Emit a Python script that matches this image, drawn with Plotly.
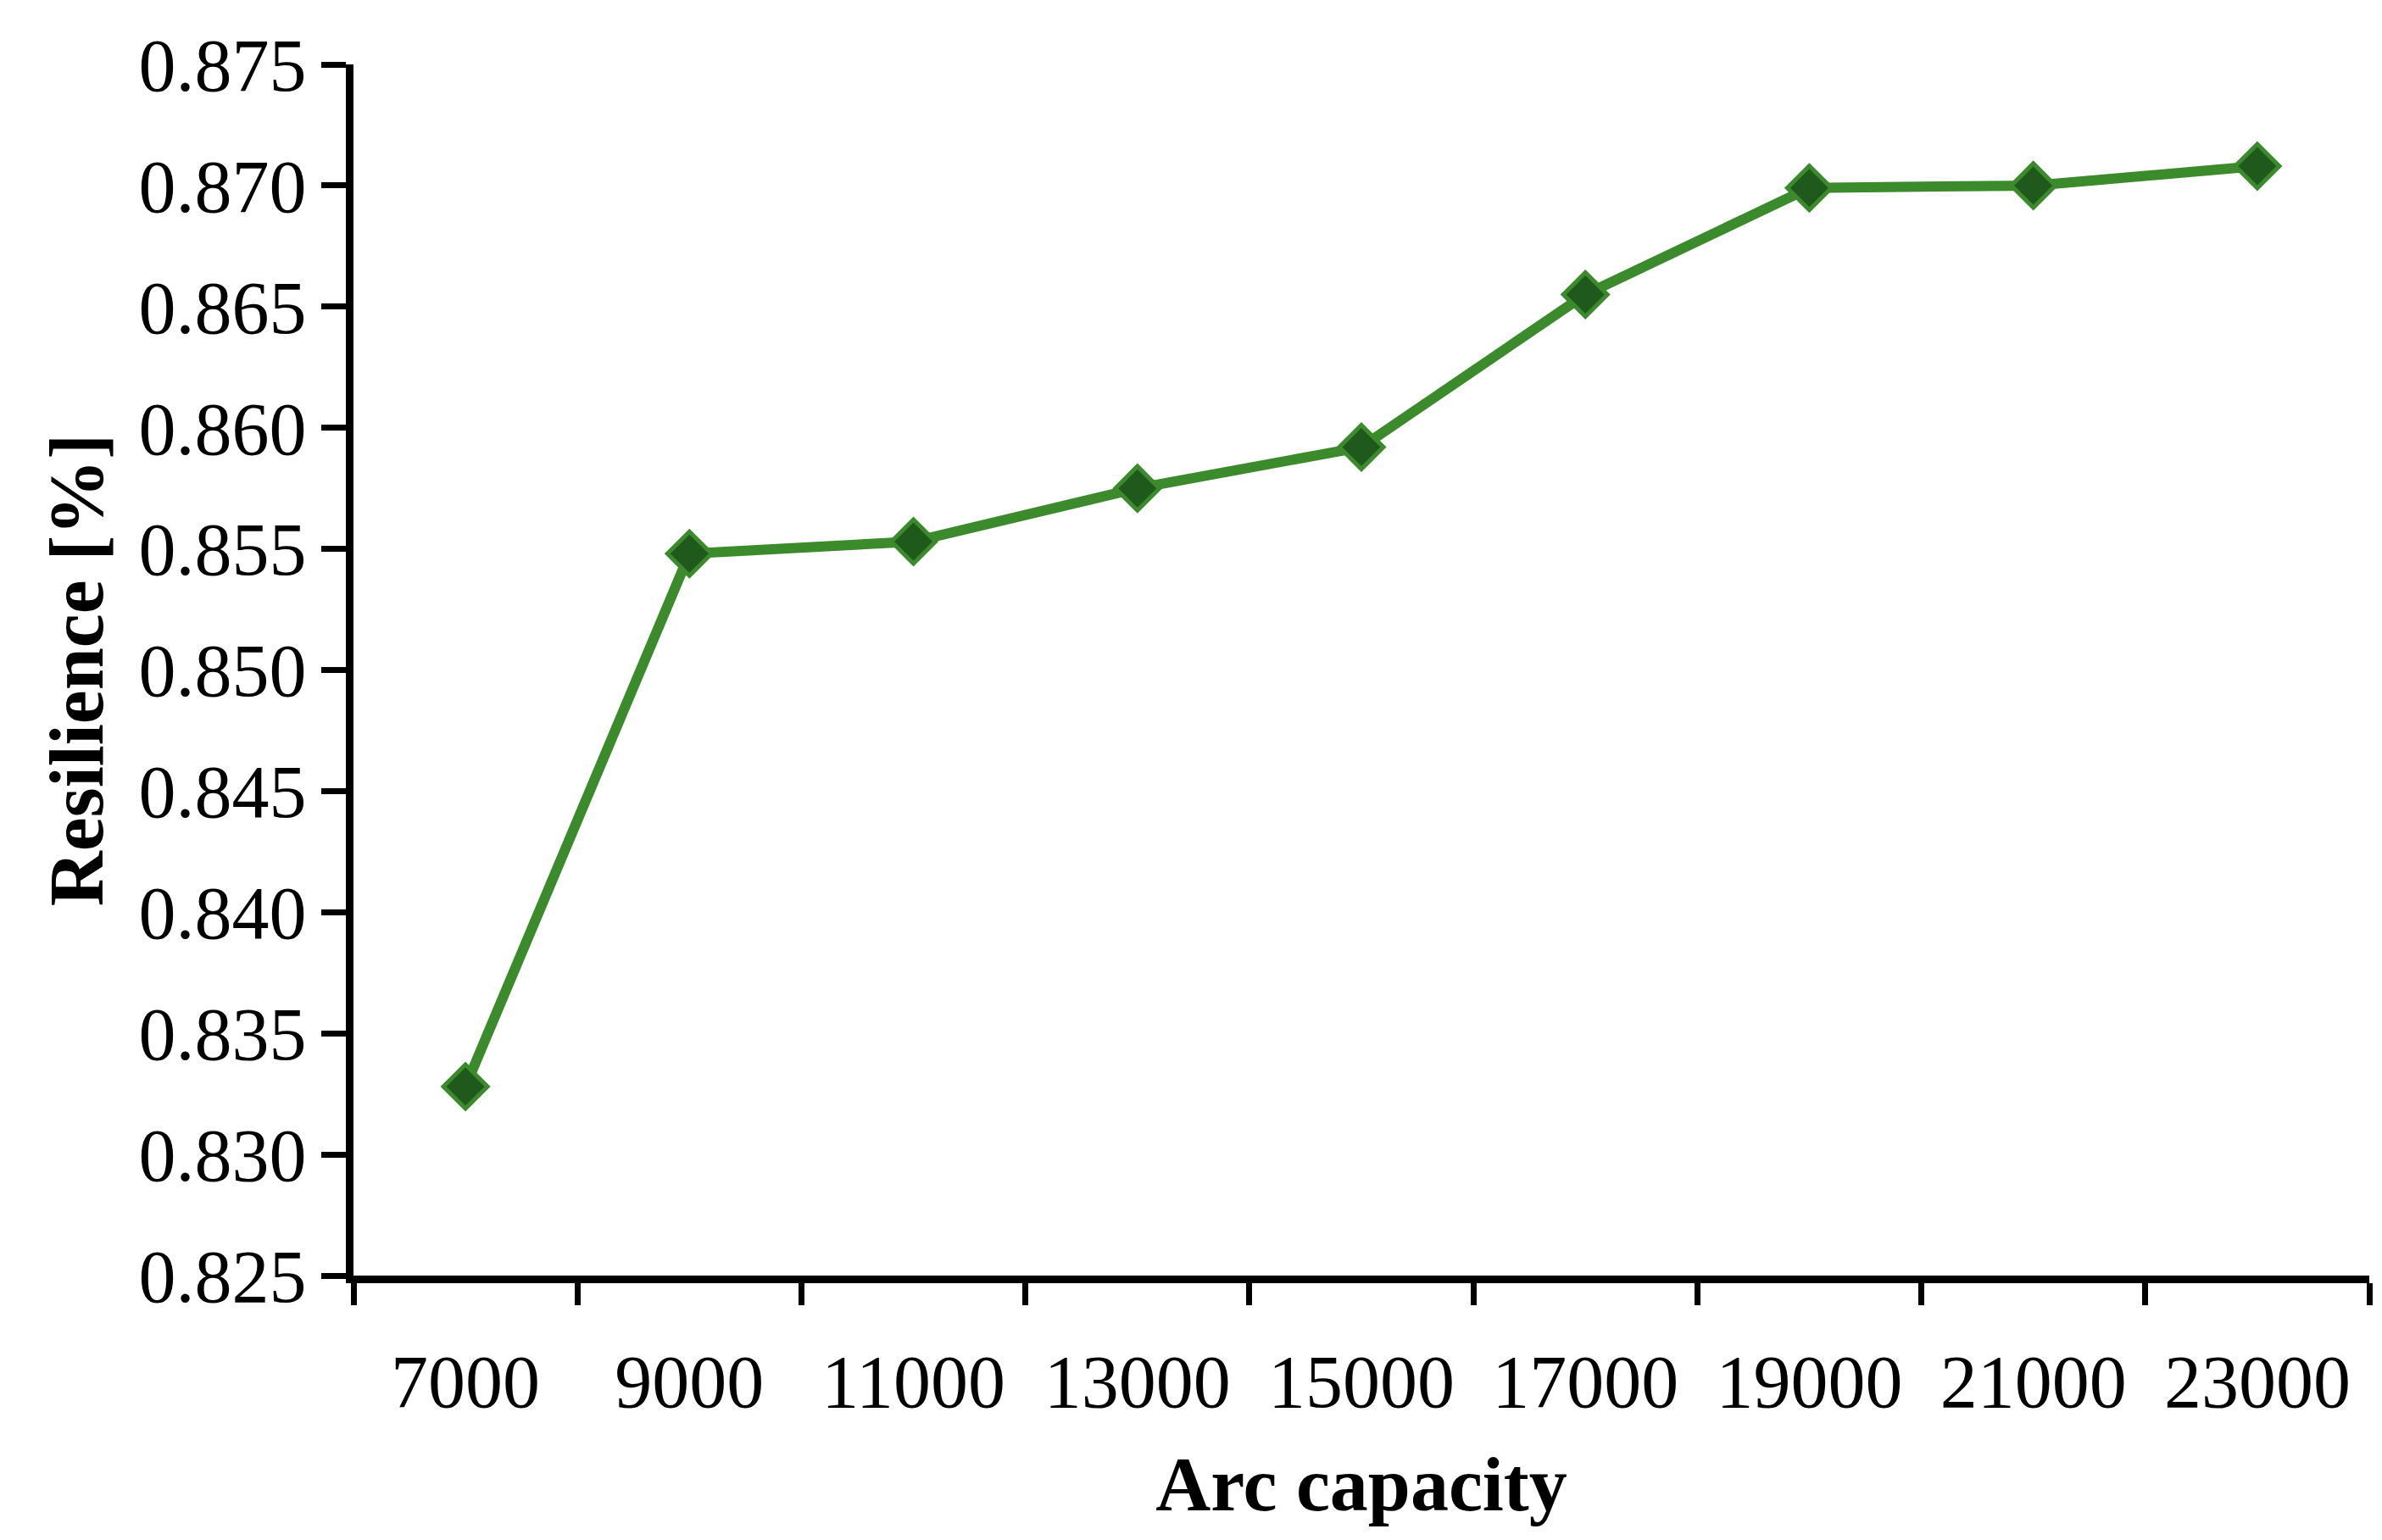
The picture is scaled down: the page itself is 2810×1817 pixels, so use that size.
import plotly.graph_objects as go

arc_capacity = [7000, 9000, 11000, 13000, 15000, 17000, 19000, 21000, 23000]
resilience = [0.8328, 0.8548, 0.8553, 0.8575, 0.8592, 0.8655, 0.8699, 0.8700, 0.8708]
y_ticks = [0.825, 0.830, 0.835, 0.840, 0.845, 0.850, 0.855, 0.860, 0.865, 0.870, 0.875]

font = "Liberation Serif"

fig = go.Figure(go.Scatter(
    x=arc_capacity, y=resilience, mode="lines+markers",
    line=dict(color="#3b8a2c", width=12),
    marker=dict(symbol="diamond", size=40, color="#1f5a1c",
                line=dict(color="#3b8a2c", width=5)),
))

fig.update_layout(
    width=2810, height=1817,
    paper_bgcolor="white", plot_bgcolor="white",
    margin=dict(l=409, r=23, t=68, b=320),
    showlegend=False,
    font=dict(family=font, size=88, color="black"),
)
fig.update_xaxes(
    range=[6000, 24000], tickvals=arc_capacity,
    ticktext=[str(v) for v in arc_capacity],
    ticks="outside", ticklen=40, tickcolor="rgba(0,0,0,0)", tickfont=dict(size=88),
    minor=dict(tick0=6000, dtick=2000, ticks="outside", ticklen=26,
               tickwidth=7, tickcolor="black"),
    showline=True, linecolor="black", linewidth=9, showgrid=False, zeroline=False,
    title=dict(text="<b>Arc capacity</b>", font=dict(size=90), standoff=45),
)
fig.update_yaxes(
    range=[0.825, 0.875], tickvals=y_ticks,
    ticktext=[f"{v:.3f}" for v in y_ticks],
    ticks="outside", ticklen=29, tickwidth=7, tickcolor="black",
    showline=True, linecolor="black", linewidth=9, showgrid=False, zeroline=False,
    title=dict(text="<b>Resilience [%]</b>", font=dict(size=90), standoff=15),
)

fig.write_html("out.html")
